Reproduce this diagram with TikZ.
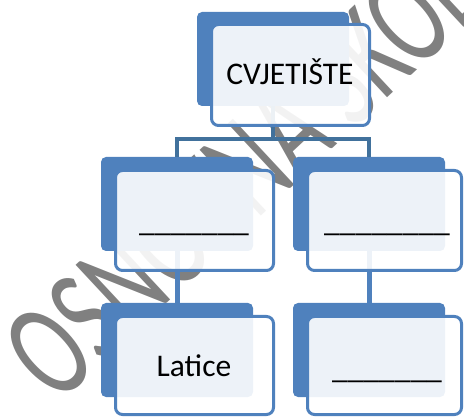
\documentclass[tikz,border=0pt]{standalone}
\usepackage{fontspec}
\setmainfont{Carlito}
\definecolor{boxblue}{HTML}{4F81BD}
\definecolor{linkblue}{HTML}{41719C}
\definecolor{wmgray}{HTML}{808080}
\begin{document}
\begin{tikzpicture}[x=1pt,y=-1pt,
  backbox/.style={fill=boxblue, rounded corners=5pt},
  frontbox/.style={fill=white, fill opacity=0.9, draw=boxblue, line width=3pt, rounded corners=7pt},
  toplink/.style={draw=linkblue, line width=4pt},
  lowlink/.style={draw=boxblue, line width=5pt},
  label/.style={anchor=base, inner sep=0pt, font=\fontsize{31.5}{36}\selectfont}
]
\useasboundingbox (0,0) rectangle (464,417);
\clip (0,0) rectangle (464,417);
% watermark
\node[anchor=base west, rotate=43, inner sep=0pt, text=wmgray] (wm) at (57.8,405.4)
  {\scalebox{0.65}[1]{\fontsize{140}{140}\selectfont OSNOVNA ŠKOLA}};
% back boxes
\path[backbox] (197,12) rectangle (349,106) coordinate (b0br);
\path[backbox] (101,157) rectangle (253,251);
\path[backbox] (293,157) rectangle (445,251);
\path[backbox] (101,303) rectangle (253,397);
\path[backbox] (293,303) rectangle (445,397);
\coordinate (t0) at (273,106);
\coordinate (m1) at (177,157);
\coordinate (m2) at (369,157);
\coordinate (m1b) at (177,251);
\coordinate (m2b) at (369,251);
\coordinate (l1) at (177,303);
\coordinate (l2) at (369,303);
% connectors (beneath the front boxes)
\draw[toplink] (t0) -- (273,139.5) -| (m1);
\draw[toplink] (273,139.5) -| (m2);
\draw[lowlink] (m1b) -- (l1);
\draw[lowlink] (m2b) -- (l2);
% front boxes
\draw[frontbox] (211.5,24.5) rectangle (369.5,125.5);
\draw[frontbox] (115.5,170.5) rectangle (273.5,270.5);
\draw[frontbox] (307.5,170.5) rectangle (461.5,270.5);
\draw[frontbox] (115.5,316.5) rectangle (273.5,414.5);
\draw[frontbox] (307.5,316.5) rectangle (461.5,414.5);
% texts
\node[label] (root) at (290,85) {CVJETIŠTE};
\node[label] (ml) at (194,232) {\_\_\_\_\_\_\_};
\node[label] (mr) at (387,232) {\_\_\_\_\_\_\_\_};
\node[label] (bl) at (194,377) {Latice};
\node[label] (br) at (387,378) {\_\_\_\_\_\_\_};
\end{tikzpicture}
\end{document}
